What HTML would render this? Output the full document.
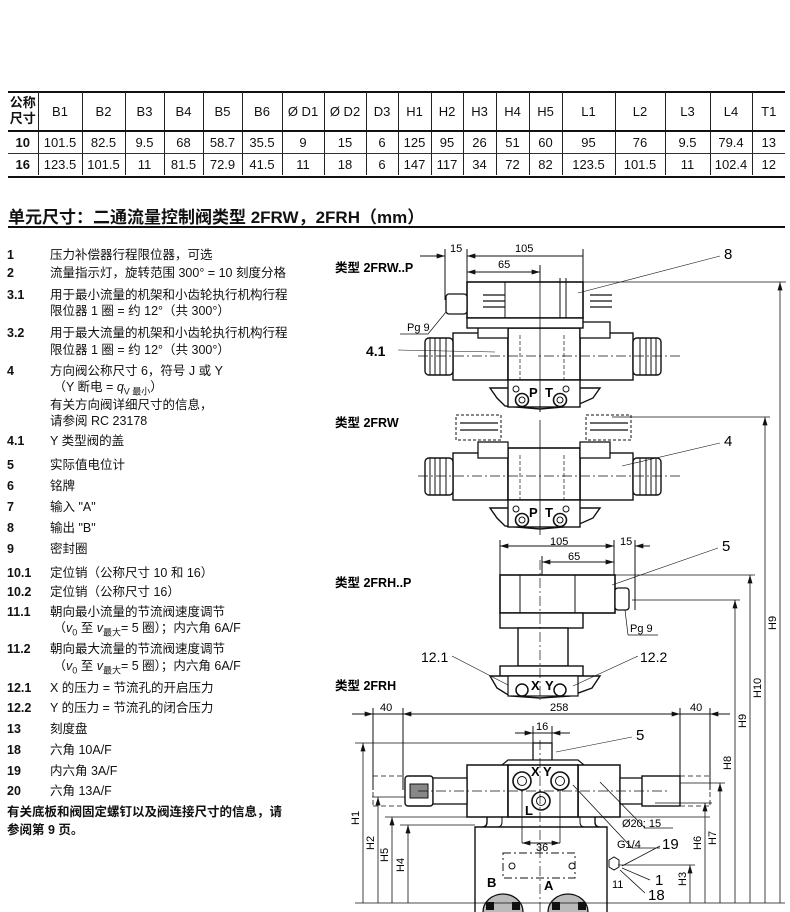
<!DOCTYPE html>
<html><head><meta charset="utf-8"><style>
html,body{margin:0;padding:0;background:#fff}
body{width:790px;height:912px;position:relative;overflow:hidden;font-family:"Liberation Sans","Noto Sans CJK SC",sans-serif;color:#111}
table{position:absolute;left:8px;top:92px;border-collapse:collapse;font-size:13px;table-layout:fixed;width:777px}
td{border-left:1px solid #222;text-align:center;padding:0;height:21px;white-space:nowrap;overflow:hidden}
td:first-child{border-left:none;font-weight:bold}
tr.h td{height:38px;border-bottom:2px solid #111}
tr.r1 td{border-bottom:1px solid #333}
.title{position:absolute;left:8px;top:203px;font-size:17px;font-weight:bold}
.rule{position:absolute;left:8px;width:777px;height:2px;background:#111}
.l{position:absolute;font-size:12.5px;line-height:16px;white-space:nowrap}
.n{left:7px;font-weight:bold}
.t{left:50px}
</style></head><body>
<div class="rule" style="top:91px"></div>
<table>
<colgroup><col style="width:30px"><col style="width:44px"><col style="width:43px"><col style="width:39px"><col style="width:39px"><col style="width:39px"><col style="width:40px"><col style="width:42px"><col style="width:42px"><col style="width:32px"><col style="width:33px"><col style="width:32px"><col style="width:33px"><col style="width:33px"><col style="width:33px"><col style="width:53px"><col style="width:50px"><col style="width:45px"><col style="width:42px"><col style="width:33px"></colgroup>
<tr class="h"><td style="line-height:16px">公称<br>尺寸</td><td>B1</td><td>B2</td><td>B3</td><td>B4</td><td>B5</td><td>B6</td><td>Ø D1</td><td>Ø D2</td><td>D3</td><td>H1</td><td>H2</td><td>H3</td><td>H4</td><td>H5</td><td>L1</td><td>L2</td><td>L3</td><td>L4</td><td>T1</td></tr>
<tr class="r1"><td>10</td><td>101.5</td><td>82.5</td><td>9.5</td><td>68</td><td>58.7</td><td>35.5</td><td>9</td><td>15</td><td>6</td><td>125</td><td>95</td><td>26</td><td>51</td><td>60</td><td>95</td><td>76</td><td>9.5</td><td>79.4</td><td>13</td></tr>
<tr><td>16</td><td>123.5</td><td>101.5</td><td>11</td><td>81.5</td><td>72.9</td><td>41.5</td><td>11</td><td>18</td><td>6</td><td>147</td><td>117</td><td>34</td><td>72</td><td>82</td><td>123.5</td><td>101.5</td><td>11</td><td>102.4</td><td>12</td></tr>
</table>
<div class="rule" style="top:176px"></div>
<div class="title">单元尺寸：二通流量控制阀类型 2FRW，2FRH（mm）</div>
<div class="rule" style="top:226px;height:1.5px"></div>

<div class="l n" style="top:247px">1</div><div class="l t" style="top:247px">压力补偿器行程限位器，可选</div>
<div class="l n" style="top:265px">2</div><div class="l t" style="top:265px">流量指示灯，旋转范围 300° = 10 刻度分格</div>
<div class="l n" style="top:287px">3.1</div><div class="l t" style="top:287px">用于最小流量的机架和小齿轮执行机构行程</div>
<div class="l t" style="top:303px">限位器 1 圈 = 约 12°（共 300°）</div>
<div class="l n" style="top:325px">3.2</div><div class="l t" style="top:325px">用于最大流量的机架和小齿轮执行机构行程</div>
<div class="l t" style="top:342px">限位器 1 圈 = 约 12°（共 300°）</div>
<div class="l n" style="top:363px">4</div><div class="l t" style="top:363px">方向阀公称尺寸 6，符号 J 或 Y</div>
<div class="l t" style="top:379px">&nbsp;（Y 断电 = <i>q</i><sub style="font-size:9px">V 最小</sub>）</div>
<div class="l t" style="top:397px">有关方向阀详细尺寸的信息，</div>
<div class="l t" style="top:413px">请参阅 RC 23178</div>
<div class="l n" style="top:433px">4.1</div><div class="l t" style="top:433px">Y 类型阀的盖</div>
<div class="l n" style="top:457px">5</div><div class="l t" style="top:457px">实际值电位计</div>
<div class="l n" style="top:478px">6</div><div class="l t" style="top:478px">铭牌</div>
<div class="l n" style="top:499px">7</div><div class="l t" style="top:499px">输入 "A"</div>
<div class="l n" style="top:520px">8</div><div class="l t" style="top:520px">输出 "B"</div>
<div class="l n" style="top:541px">9</div><div class="l t" style="top:541px">密封圈</div>
<div class="l n" style="top:565px">10.1</div><div class="l t" style="top:565px">定位销（公称尺寸 10 和 16）</div>
<div class="l n" style="top:584px">10.2</div><div class="l t" style="top:584px">定位销（公称尺寸 16）</div>
<div class="l n" style="top:604px">11.1</div><div class="l t" style="top:604px">朝向最小流量的节流阀速度调节</div>
<div class="l t" style="top:620px">&nbsp;（<i>v</i><sub style="font-size:9px">0</sub> 至 <i>v</i><sub style="font-size:9px">最大</sub>= 5 圈）；内六角 6A/F</div>
<div class="l n" style="top:641px">11.2</div><div class="l t" style="top:641px">朝向最大流量的节流阀速度调节</div>
<div class="l t" style="top:658px">&nbsp;（<i>v</i><sub style="font-size:9px">0</sub> 至 <i>v</i><sub style="font-size:9px">最大</sub>= 5 圈）；内六角 6A/F</div>
<div class="l n" style="top:680px">12.1</div><div class="l t" style="top:680px">X 的压力 = 节流孔的开启压力</div>
<div class="l n" style="top:700px">12.2</div><div class="l t" style="top:700px">Y 的压力 = 节流孔的闭合压力</div>
<div class="l n" style="top:721px">13</div><div class="l t" style="top:721px">刻度盘</div>
<div class="l n" style="top:742px">18</div><div class="l t" style="top:742px">六角 10A/F</div>
<div class="l n" style="top:763px">19</div><div class="l t" style="top:763px">内六角 3A/F</div>
<div class="l n" style="top:783px">20</div><div class="l t" style="top:783px">六角 13A/F</div>
<div class="l" style="left:7px;top:804px;font-weight:bold">有关底板和阀固定螺钉以及阀连接尺寸的信息，请</div>
<div class="l" style="left:7px;top:822px;font-weight:bold">参阅第 9 页。</div>

<svg width="790" height="912" style="position:absolute;left:0;top:0" font-family="Liberation Sans, Noto Sans CJK SC, sans-serif">
<defs>
<marker id="a" viewBox="0 0 10 6" refX="10" refY="3" markerWidth="9" markerHeight="5" orient="auto-start-reverse" markerUnits="userSpaceOnUse"><path d="M0,0L10,3L0,6z" fill="#111"/></marker>
<g id="sol">
 <rect x="453" y="333" width="55" height="47" fill="#fff" stroke="#111" stroke-width="1.4"/>
 <rect x="580" y="333" width="53" height="47" fill="#fff" stroke="#111" stroke-width="1.4"/>
 <rect x="508" y="328" width="72" height="52" fill="#fff" stroke="#111" stroke-width="1.6"/>
 <rect x="425" y="338" width="28" height="37" rx="4" fill="#fff" stroke="#111" stroke-width="1.4"/>
 <rect x="633" y="338" width="28" height="37" rx="4" fill="#fff" stroke="#111" stroke-width="1.4"/>
 <path d="M430,338v37M435,338v37M440,338v37M446,338v37M640,338v37M646,338v37M651,338v37M656,338v37" stroke="#111" stroke-width="1"/>
 <rect x="478" y="322" width="30" height="16" fill="#fff" stroke="#111" stroke-width="1.3"/>
 <rect x="580" y="322" width="30" height="16" fill="#fff" stroke="#111" stroke-width="1.3"/>
 <path d="M490,388L600,388L593,398L575,406L540,409L505,406L497,398Z" fill="#fff" stroke="#111" stroke-width="1.4"/>
 <rect x="508" y="380" width="72" height="27" fill="#fff" stroke="#111" stroke-width="1.4"/>
 <circle cx="522" cy="400" r="6.5" fill="#fff" stroke="#111" stroke-width="1.6"/><circle cx="522" cy="400" r="3" fill="none" stroke="#111"/>
 <circle cx="560" cy="400" r="6.5" fill="#fff" stroke="#111" stroke-width="1.6"/><circle cx="560" cy="400" r="3" fill="none" stroke="#111"/>
 <circle cx="516" cy="389" r="3" fill="none" stroke="#111"/><circle cx="566" cy="389" r="3" fill="none" stroke="#111"/>
 <text x="529" y="397" font-size="13" font-weight="bold">P</text><text x="545" y="397" font-size="13" font-weight="bold">T</text>
 <path d="M418,356H680" stroke="#111" stroke-width=".7" stroke-dasharray="10,3,2,3"/>
 <path d="M520,335v45M564,335v45" stroke="#111" stroke-width=".7" stroke-dasharray="4,2"/>
</g>
</defs>
<g stroke="#111" fill="none" stroke-width="1">
<path d="M467,256H583" marker-start="url(#a)"/>
<path d="M420,256H445"/>
<path d="M445,249V300M467,249V282M583,249V282M540,265V412"/>
<path d="M467,272H540" marker-start="url(#a)" marker-end="url(#a)"/>
<path d="M445,256h-12" marker-start="url(#a)"/>
</g>
<text x="335" y="272" font-size="12.5" font-weight="bold">类型 2FRW..P</text>
<text x="450" y="252" font-size="11">15</text><text x="515" y="252" font-size="11">105</text><text x="498" y="268" font-size="11">65</text>
<use href="#sol"/>
<rect x="467" y="282" width="116" height="36" fill="#fff" stroke="#111" stroke-width="1.6"/>
<rect x="467" y="318" width="116" height="10" fill="#fff" stroke="#111" stroke-width="1.4"/>
<path d="M505,282v36M560,278v40M566,278v40" stroke="#111" stroke-width="1"/>
<rect x="446" y="294" width="21" height="20" rx="3" fill="#fff" stroke="#111" stroke-width="1.3"/>
<path d="M483,295h22M483,301h22M483,307h22M590,295h22M590,301h22M590,307h22" stroke="#111" stroke-width="1.3"/>
<path d="M583,282H786M540,265V412" stroke="#111" stroke-width=".8"/>
<text x="407" y="331" font-size="11">Pg 9</text><path d="M400,334h28l18,-22" stroke="#111" fill="none" stroke-width=".7"/>
<text x="366" y="356" font-size="14" font-weight="bold">4.1</text><path d="M398,350L495,352" stroke="#111" stroke-width=".6"/>
<text x="724" y="259" font-size="15">8</text><path d="M720,256L578,293" stroke="#111" stroke-width=".6"/>

<text x="335" y="427" font-size="12.5" font-weight="bold">类型 2FRW</text>
<g transform="translate(0,120)"><use href="#sol"/></g>
<g stroke="#111" stroke-width="1" fill="none" stroke-dasharray="3,2">
<path d="M456,415h45v25h-45zM586,415h45v25h-45z"/>
</g>
<path d="M460,423h38M460,430h38M590,423h38M590,430h38" stroke="#111" stroke-width="1.3"/>
<path d="M612,417H770M540,420V535" stroke="#111" stroke-width=".8"/>
<text x="724" y="446" font-size="15">4</text><path d="M720,443L622,466" stroke="#111" stroke-width=".6"/>

<g stroke="#111" fill="none" stroke-width="1">
<path d="M500,546H614" marker-start="url(#a)" marker-end="url(#a)"/>
<path d="M635,546h15" marker-start="url(#a)"/>
<path d="M542,562H614" marker-start="url(#a)" marker-end="url(#a)"/>
<path d="M500,540V575M614,540V575M635,540V610M542,556V575"/>
</g>
<text x="550" y="545" font-size="11">105</text><text x="620" y="545" font-size="11">15</text><text x="568" y="560" font-size="11">65</text>
<text x="335" y="587" font-size="12.5" font-weight="bold">类型 2FRH..P</text>
<rect x="500" y="575" width="115" height="38" fill="#fff" stroke="#111" stroke-width="1.6"/>
<rect x="500" y="613" width="83" height="15" fill="#fff" stroke="#111" stroke-width="1.4"/>
<path d="M520,575v38M575,575v38" stroke="#111"/>
<rect x="615" y="588" width="14" height="22" rx="3" fill="#fff" stroke="#111" stroke-width="1.3"/>
<rect x="518" y="628" width="50" height="38" fill="#fff" stroke="#111" stroke-width="1.4"/>
<rect x="500" y="666" width="83" height="10" fill="#fff" stroke="#111" stroke-width="1.4"/>
<path d="M490,676L600,676L592,688L570,696L540,698L510,696L497,688Z" fill="#fff" stroke="#111" stroke-width="1.4"/>
<rect x="508" y="676" width="70" height="20" fill="#fff" stroke="#111" stroke-width="1.2"/>
<circle cx="522" cy="690" r="6" fill="#fff" stroke="#111" stroke-width="1.5"/><circle cx="560" cy="690" r="6" fill="#fff" stroke="#111" stroke-width="1.5"/>
<text x="531" y="690" font-size="13" font-weight="bold">X</text><text x="545" y="690" font-size="13" font-weight="bold">Y</text>
<path d="M540,560V700" stroke="#111" stroke-width=".7" stroke-dasharray="10,3,2,3"/>
<path d="M615,575H755M632,600H740" stroke="#111" stroke-width=".8"/>
<text x="630" y="632" font-size="11">Pg 9</text><path d="M628,635h30M625,610l3,25" stroke="#111" stroke-width=".7" fill="none"/>
<text x="722" y="551" font-size="15">5</text><path d="M718,548L612,585" stroke="#111" stroke-width=".6"/>
<text x="421" y="662" font-size="14">12.1</text><path d="M452,656L508,685" stroke="#111" stroke-width=".6"/>
<text x="640" y="662" font-size="14">12.2</text><path d="M638,656L573,686" stroke="#111" stroke-width=".6"/>
<text x="335" y="690" font-size="12.5" font-weight="bold">类型 2FRH</text>

<g stroke="#111" fill="none" stroke-width="1">
<path d="M352,714H373" marker-end="url(#a)"/><path d="M403,714H680" marker-start="url(#a)" marker-end="url(#a)"/><path d="M730,714H710" marker-end="url(#a)"/>
<path d="M373,714H403M680,714H710"/>
<path d="M373,708V790M403,708V790M680,708V790M710,708V790"/>
<path d="M515,733H533" marker-end="url(#a)"/><path d="M570,733H552" marker-end="url(#a)"/><path d="M533,733H552M533,726V745M552,726V745"/>
</g>
<text x="380" y="711" font-size="11">40</text><text x="550" y="711" font-size="11">258</text><text x="690" y="711" font-size="11">40</text><text x="536" y="730" font-size="11">16</text>
<rect x="533" y="743" width="19" height="20" fill="#fff" stroke="#111" stroke-width="1.3"/>
<path d="M502,765l6,-5h70l6,5" fill="#fff" stroke="#111" stroke-width="1.2"/>
<rect x="467" y="765" width="41" height="52" fill="#fff" stroke="#111" stroke-width="1.5"/>
<rect x="578" y="765" width="42" height="52" fill="#fff" stroke="#111" stroke-width="1.5"/>
<rect x="508" y="765" width="70" height="52" fill="#fff" stroke="#111" stroke-width="1.6"/>
<rect x="405" y="776" width="28" height="30" rx="3" fill="#fff" stroke="#111" stroke-width="1.4"/>
<rect x="410" y="784" width="18" height="14" fill="#888" stroke="#111"/>
<rect x="433" y="778" width="34" height="26" fill="#fff" stroke="#111" stroke-width="1.3"/>
<rect x="620" y="778" width="34" height="26" fill="#fff" stroke="#111" stroke-width="1.3"/>
<rect x="642" y="776" width="38" height="30" fill="#fff" stroke="#111" stroke-width="1.4"/>
<path d="M373,776h30M373,806h30M680,776h30M710,776v30M680,806h30M373,776v30" stroke="#111" stroke-width=".8" stroke-dasharray="5,3"/>
<circle cx="522" cy="781" r="9" fill="#fff" stroke="#111" stroke-width="1.6"/><circle cx="522" cy="781" r="4.5" fill="none" stroke="#111"/>
<circle cx="560" cy="781" r="9" fill="#fff" stroke="#111" stroke-width="1.6"/><circle cx="560" cy="781" r="4.5" fill="none" stroke="#111"/>
<circle cx="541" cy="801" r="9" fill="#fff" stroke="#111" stroke-width="1.6"/><circle cx="541" cy="801" r="4.5" fill="none" stroke="#111"/>
<text x="531" y="776" font-size="13" font-weight="bold">X Y</text><text x="525" y="815" font-size="13" font-weight="bold">L</text>
<path d="M487,817v5q0,5,-5,5h-7v85M595,817v5q0,5,5,5h7v85M475,827H600" fill="none" stroke="#111" stroke-width="1.4"/>
<path d="M502,817v5q0,5,-5,5M580,817v5q0,5,5,5" fill="none" stroke="#111"/>
<rect x="503" y="853" width="72" height="25" fill="none" stroke="#111" stroke-dasharray="8,3,2,3"/>
<circle cx="512" cy="866" r="3" fill="none" stroke="#111"/><circle cx="572" cy="866" r="3" fill="none" stroke="#111"/>
<path d="M522,790V843M560,790V843" stroke="#111" stroke-width=".8"/>
<path d="M522,843H541" stroke="#111" marker-start="url(#a)"/><path d="M560,843H541" stroke="#111" marker-start="url(#a)"/>
<text x="536" y="851" font-size="11">36</text>
<path d="M483,912a20,18 0 0 1 40,0M548,912a20,18 0 0 1 40,0" fill="#bbb" stroke="#111" stroke-width="1.3"/>
<rect x="486" y="902" width="8" height="8" fill="#111"/><rect x="512" y="902" width="8" height="8" fill="#111"/><rect x="552" y="902" width="8" height="8" fill="#111"/><rect x="578" y="902" width="8" height="8" fill="#111"/>
<text x="487" y="887" font-size="13" font-weight="bold">B</text><text x="544" y="890" font-size="13" font-weight="bold">A</text>
<path d="M609,860l5,-3l5,3v7l-5,3l-5,-3z" fill="#fff" stroke="#111"/>
<path d="M540,740V912" stroke="#111" stroke-width=".7" stroke-dasharray="10,3,2,3"/>
<path d="M418,791H670" stroke="#111" stroke-width=".7" stroke-dasharray="10,3,2,3"/>
<g stroke="#111" stroke-width=".8" fill="none">
<path d="M355,743H533M355,903H785M372,797H405M385,817H470M400,825H475M620,817H710M680,783H725M618,865H695M655,803H712"/>
<path d="M363,903V743" marker-end="url(#a)"/><path d="M378,903V797" marker-end="url(#a)"/><path d="M392,903V817" marker-end="url(#a)"/><path d="M408,903V825" marker-end="url(#a)"/>
<path d="M690,903V865" marker-end="url(#a)"/><path d="M705,903V803" marker-end="url(#a)"/><path d="M720,903V783" marker-end="url(#a)"/>
<path d="M735,903V600" marker-end="url(#a)"/><path d="M750,903V575" marker-end="url(#a)"/><path d="M765,903V417" marker-end="url(#a)"/><path d="M780,903V282" marker-end="url(#a)"/>
<path d="M600,782L645,828h28M573,785L632,848h28M622,866L660,846M622,868L650,880M620,870L645,893"/>
</g>
<g font-size="11">
<text transform="translate(359,825) rotate(-90)">H1</text><text transform="translate(374,850) rotate(-90)">H2</text><text transform="translate(388,862) rotate(-90)">H5</text><text transform="translate(404,872) rotate(-90)">H4</text>
<text transform="translate(686,886) rotate(-90)">H3</text><text transform="translate(701,850) rotate(-90)">H6</text><text transform="translate(716,845) rotate(-90)">H7</text>
<text transform="translate(731,770) rotate(-90)">H8</text><text transform="translate(746,728) rotate(-90)">H9</text><text transform="translate(761,698) rotate(-90)">H10</text><text transform="translate(776,630) rotate(-90)">H9</text>
<text x="622" y="827">Ø20; 15</text><text x="617" y="848">G1/4</text><text x="612" y="888">11</text>
</g>
<text x="636" y="740" font-size="15">5</text><path d="M632,737L556,752" stroke="#111" stroke-width=".6"/>
<text x="662" y="849" font-size="15">19</text><text x="655" y="885" font-size="15">1</text><text x="648" y="900" font-size="15">18</text>
</svg>
</body></html>
